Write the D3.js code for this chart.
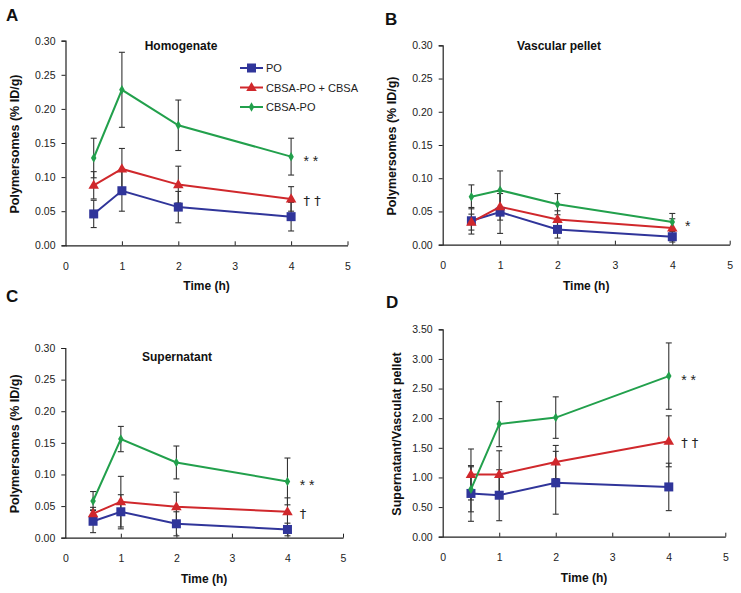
<!DOCTYPE html>
<html><head><meta charset="utf-8">
<script src="https://cdn.jsdelivr.net/npm/d3@7"></script>
<style>
body{margin:0;background:#fff;}
svg{display:block;font-family:"Liberation Sans",Arial,sans-serif;}
</style></head>
<body>
<svg id="chart" width="741" height="593"></svg>
<script>
// ---------- data ----------
const times = [0.5, 1, 2, 4];
const xTickValues = [0, 1, 2, 3, 4, 5];
const seriesNames = ["PO", "CBSA-PO + CBSA", "CBSA-PO"];

// Panel A - Homogenate (% ID/g)
const homPO = [0.046, 0.080, 0.056, 0.042];
const homPOsd = [0.020, 0.030, 0.023, 0.021];
const homCBSAplus = [0.088, 0.112, 0.089, 0.068];
const homCBSAplusSd = [0.020, 0.030, 0.027, 0.018];
const homCBSA = [0.128, 0.228, 0.176, 0.130];
const homCBSAsd = [0.029, 0.055, 0.037, 0.027];

// Panel B - Vascular pellet
const vasPO = [0.036, 0.049, 0.023, 0.012];
const vasPOsd = [0.020, 0.032, 0.013, 0.008];
const vasCBSAplus = [0.034, 0.057, 0.038, 0.025];
const vasCBSAplusSd = [0.012, 0.020, 0.013, 0.014];
const vasCBSA = [0.072, 0.082, 0.061, 0.034];
const vasCBSAsd = [0.018, 0.029, 0.016, 0.013];

// Panel C - Supernatant
const supPO = [0.026, 0.041, 0.022, 0.013];
const supPOsd = [0.018, 0.027, 0.019, 0.010];
const supCBSAplus = [0.038, 0.057, 0.049, 0.041];
const supCBSAplusSd = [0.010, 0.040, 0.023, 0.022];
const supCBSA = [0.058, 0.156, 0.119, 0.089];
const supCBSAsd = [0.015, 0.020, 0.026, 0.037];

// Panel D - Supernatant / Vascular pellet ratio
const ratPO = [0.73, 0.70, 0.91, 0.84];
const ratPOsd = [0.47, 0.43, 0.53, 0.40];
const ratCBSAplus = [1.05, 1.05, 1.26, 1.61];
const ratCBSAplusSd = [0.43, 0.40, 0.28, 0.43];
const ratCBSA = [0.80, 1.90, 2.01, 2.71];
const ratCBSAsd = [0.38, 0.38, 0.35, 0.56];

const yTicksPct = [0, 0.05, 0.10, 0.15, 0.20, 0.25, 0.30];
const yTicksRatio = [0, 0.5, 1.0, 1.5, 2.0, 2.5, 3.0, 3.5];

// significance marks: [text, series index they follow]
const marksA = [["* *", 2], ["† †", 1]];
const marksB = [["*", 2]];
const marksC = [["* *", 2], ["†", 1]];
const marksD = [["* *", 2], ["† †", 1]];

// ---------- drawing ----------
const colors = ["#30359a", "#d0282c", "#22a04c"];
const svg = d3.select("#chart");

function marker(g, type, x, y) {
  if (type === 0) {
    g.append("rect").attr("x", x - 4.5).attr("y", y - 4.5).attr("width", 9).attr("height", 9).attr("fill", colors[0]);
  } else if (type === 1) {
    g.append("path").attr("d", d3.symbol(d3.symbolTriangle, 48)()).attr("transform", `translate(${x},${y + 0.5})`).attr("fill", colors[1]);
  } else {
    g.append("path").attr("d", d3.symbol(d3.symbolDiamond, 26)()).attr("transform", `translate(${x},${y})`).attr("fill", colors[2]);
  }
}

function panel(cfg) {
  const x = d3.scaleLinear().domain([0, 5]).range([cfg.x0, cfg.x5]);
  const y = d3.scaleLinear().domain([0, cfg.ymax]).range([cfg.y0, cfg.ytop]);
  const g = svg.append("g");

  // axes
  const yAxis = d3.axisLeft(y).tickValues(cfg.yTicks).tickFormat(d3.format(".2f")).tickSize(4).tickPadding(6);
  const ya = g.append("g").attr("transform", `translate(${cfg.x0},0)`).call(yAxis);
  const xAxis = d3.axisBottom(x).tickValues(xTickValues).tickFormat(d3.format("d")).tickSizeInner(-4).tickSizeOuter(0).tickPadding(17);
  const xa = g.append("g").attr("transform", `translate(0,${cfg.y0})`).call(xAxis);
  [ya, xa].forEach(a => {
    a.select(".domain").attr("stroke", "#222").attr("stroke-width", 1.2);
    a.selectAll(".tick line").attr("stroke", "#222").attr("stroke-width", 1);
    a.selectAll(".tick text").attr("fill", "#222").style("font-size", "10.5px").style("font-family", '"Liberation Sans",Arial,sans-serif');
  });
  xa.selectAll(".tick").filter(d => d === 0).select("line").remove();

  // titles
  g.append("text").attr("x", (cfg.x0 + cfg.x5) / 2).attr("y", cfg.y0 + 45).attr("text-anchor", "middle")
    .style("font-weight", "bold").style("font-size", "12px").attr("fill", "#111").text("Time (h)");
  g.append("text").attr("transform", `translate(${cfg.ytx},${(cfg.y0 + cfg.ytop) / 2 + 1}) rotate(-90)`).attr("text-anchor", "middle")
    .style("font-weight", "bold").style("font-size", "12.5px").attr("fill", "#111").text(cfg.ytitle);
  if (cfg.title) g.append("text").attr("x", cfg.tx).attr("y", cfg.ty).attr("text-anchor", "middle")
    .style("font-weight", "bold").style("font-size", "12px").attr("fill", "#111").text(cfg.title);
  g.append("text").attr("x", cfg.lx).attr("y", cfg.ly).style("font-weight", "bold").style("font-size", "17px")
    .attr("fill", "#111").text(cfg.letter);

  const line = d3.line().x((d, i) => x(times[i])).y(d => y(d));
  // lines
  cfg.series.forEach((s, k) => {
    g.append("path").datum(s.v).attr("d", line).attr("fill", "none").attr("stroke", colors[k]).attr("stroke-width", 2);
  });
  // error bars
  cfg.series.forEach((s, k) => {
    s.v.forEach((v, i) => {
      const xx = x(times[i]);
      const y1 = y(v + s.sd[i]), y2 = y(Math.max(0, v - s.sd[i]));
      g.append("line").attr("x1", xx).attr("x2", xx).attr("y1", y1).attr("y2", y2).attr("stroke", "#333").attr("stroke-width", 1.1);
      [y1, y2].forEach(yy => g.append("line").attr("x1", xx - 3).attr("x2", xx + 3).attr("y1", yy).attr("y2", yy).attr("stroke", "#333").attr("stroke-width", 1.1));
    });
  });
  // markers
  cfg.series.forEach((s, k) => {
    s.v.forEach((v, i) => marker(g, k, x(times[i]), y(v)));
  });
  // significance marks
  cfg.marks.forEach(([t, k]) => {
    const last = cfg.series[k].v[times.length - 1];
    const isStar = t.indexOf("*") >= 0;
    g.append("text").attr("x", x(4.22)).attr("y", y(last) + (isStar ? 9 : 6))
      .style("font-size", isStar ? "14px" : "13px")
      .style("font-family", isStar ? '"Liberation Sans",Arial,sans-serif' : '"DejaVu Sans",sans-serif')
      .attr("fill", "#222").text(t);
  });
  return {x, y, g};
}

panel({letter: "A", lx: 6, ly: 21, x0: 65.5, x5: 347.5, y0: 245.3, ytop: 40.7, ymax: 0.30, yTicks: yTicksPct,
  ytitle: "Polymersomes (% ID/g)", ytx: 19, title: "Homogenate", tx: 181, ty: 50,
  series: [{v: homPO, sd: homPOsd}, {v: homCBSAplus, sd: homCBSAplusSd}, {v: homCBSA, sd: homCBSAsd}], marks: marksA});
panel({letter: "B", lx: 385, ly: 25, x0: 442.7, x5: 729.7, y0: 244.7, ytop: 45.3, ymax: 0.30, yTicks: yTicksPct,
  ytitle: "Polymersomes (% ID/g)", ytx: 396, title: "Vascular pellet", tx: 559, ty: 50,
  series: [{v: vasPO, sd: vasPOsd}, {v: vasCBSAplus, sd: vasCBSAplusSd}, {v: vasCBSA, sd: vasCBSAsd}], marks: marksB});
panel({letter: "C", lx: 6, ly: 302, x0: 65.3, x5: 343, y0: 537.7, ytop: 348, ymax: 0.30, yTicks: yTicksPct,
  ytitle: "Polymersomes (% ID/g)", ytx: 19, title: "Supernatant", tx: 177, ty: 361,
  series: [{v: supPO, sd: supPOsd}, {v: supCBSAplus, sd: supCBSAplusSd}, {v: supCBSA, sd: supCBSAsd}], marks: marksC});
panel({letter: "D", lx: 386, ly: 308, x0: 442.7, x5: 725.3, y0: 536.7, ytop: 329.3, ymax: 3.50, yTicks: yTicksRatio,
  ytitle: "Supernatant/Vasculat pellet", ytx: 401, title: null,
  series: [{v: ratPO, sd: ratPOsd}, {v: ratCBSAplus, sd: ratCBSAplusSd}, {v: ratCBSA, sd: ratCBSAsd}], marks: marksD});

// legend (panel A)
const leg = svg.append("g");
seriesNames.forEach((n, k) => {
  const yy = 68 + k * 19.5;
  leg.append("line").attr("x1", 240).attr("x2", 263).attr("y1", yy).attr("y2", yy).attr("stroke", colors[k]).attr("stroke-width", 2);
  marker(leg, k, 251.5, yy);
  leg.append("text").attr("x", 266).attr("y", yy + 4).style("font-size", "11px").attr("fill", "#222").text(n);
});
</script>
</body></html>
